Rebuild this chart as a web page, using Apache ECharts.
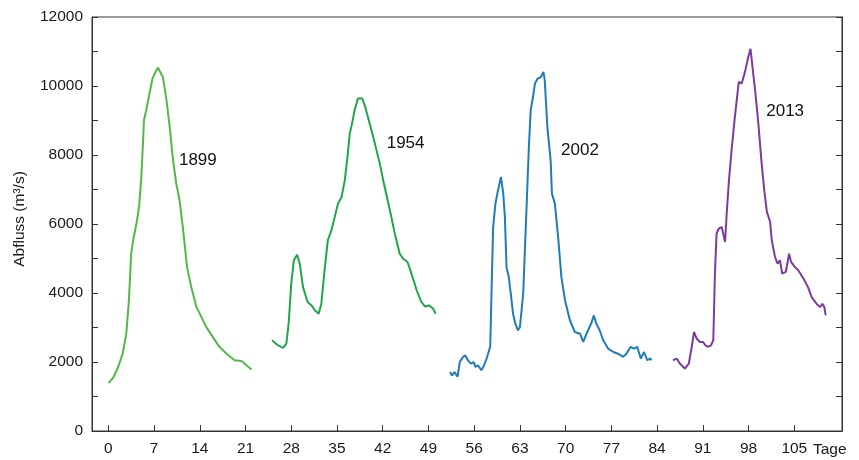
<!DOCTYPE html>
<html>
<head>
<meta charset="utf-8">
<script src="https://cdn.jsdelivr.net/npm/echarts@6/dist/echarts.min.js"></script>
<style>html,body{margin:0;padding:0;background:#fff}#c{width:859px;height:460px}</style>
</head>
<body>
<div id="c"></div>
<script>
// ---- data (days, discharge m³/s) ----
var days1899 = [0.05,0.8,1.5,2.2,2.75,3.15,3.5,3.8,4.3,4.7,5.05,5.3,5.45,5.8,6.3,6.75,7.1,7.6,8.35,8.9,9.4,9.9,10.4,10.9,11.4,12.05,12.7,13.5,14.25,15,16,17,18.1,19.3,20.4,21.9];
var flow1899 = [1390,1565,1855,2245,2820,3790,5140,5530,6010,6490,7360,8330,9010,9300,9780,10210,10360,10530,10260,9590,8810,7850,7170,6690,5910,4750,4170,3590,3300,3010,2720,2440,2240,2050,2030,1780];

var days1954 = [25.05,26.0,26.75,27.25,27.6,28.0,28.4,28.9,29.3,29.8,30.5,31.1,31.6,32.2,32.6,33.1,33.6,34.15,34.65,35.15,35.7,36.2,36.6,36.95,37.3,37.7,38.2,38.85,39.25,40.0,40.8,41.55,42.3,43.1,43.85,44.6,45.1,45.8,46.4,47.2,47.9,48.45,49.05,49.35,49.7,50.1];
var flow1954 = [2630,2480,2410,2530,3110,4270,4950,5110,4850,4170,3740,3640,3500,3400,3690,4660,5530,5820,6200,6590,6780,7270,7940,8620,8910,9300,9640,9640,9440,8910,8330,7750,7070,6400,5720,5140,5000,4900,4560,4080,3740,3610,3640,3690,3550,3400];

var days2002 = [52.3,52.6,53.0,53.45,53.8,54.3,54.65,55.05,55.5,55.9,56.2,56.6,57.1,57.5,57.9,58.2,58.45,58.65,58.9,59.25,59.65,60.1,60.45,60.7,60.95,61.3,61.6,61.95,62.3,62.7,63.0,63.5,64.0,64.35,64.65,65.0,65.3,65.7,66.2,66.6,66.8,67.2,67.7,67.9,68.35,68.85,69.35,69.9,70.65,71.4,72.2,72.7,73.2,74.0,74.3,74.7,75.2,75.75,76.5,77.3,78.0,78.8,79.3,79.95,80.45,80.95,81.5,82.0,82.5,82.9,83.15];
var flow2002 = [1710,1610,1710,1570,2000,2150,2190,2050,1950,2000,1860,1900,1760,1900,2100,2050,2440,3980,5910,6590,6980,7360,6880,6200,4750,4460,3980,3400,3110,2920,3010,3980,6400,8140,9300,9680,10070,10210,10260,10410,10170,8810,7850,6880,6590,5620,4460,3790,3210,2870,2820,2580,2820,3160,3350,3110,2920,2630,2390,2290,2240,2150,2240,2440,2390,2440,2100,2290,2050,2100,2050];

var days2013 = [86.45,87.0,87.5,88.25,88.85,89.3,89.65,90.05,90.55,91.05,91.4,91.8,92.25,92.6,92.85,93.1,93.45,93.9,94.1,94.4,94.65,95.0,95.4,95.9,96.3,96.5,96.95,97.45,97.95,98.3,98.6,99.0,99.5,100.0,100.4,100.8,101.3,101.55,102.05,102.45,102.8,103.15,103.7,104.2,104.5,105.1,105.6,106.4,107.1,107.65,108.4,108.95,109.3,109.6,109.8];
var flow2013 = [2050,2100,1950,1810,1950,2440,2870,2680,2580,2580,2480,2440,2480,2630,4560,5720,5870,5910,5960,5480,6300,7270,8140,9100,9780,10120,10070,10410,10840,11080,10550,9880,8910,7750,6980,6350,6060,5530,5040,4850,4950,4560,4610,5140,4900,4750,4660,4420,4170,3880,3690,3590,3690,3590,3350];

var years = ['1899','1954','2002','2013'];
var labelDay = [13.7, 45.5, 72.2, 103.6];
var labelFlow = [7850, 8340, 8140, 9270];
var xMin = -2.5, xMax = 112.3, xStep = 7, xLastTick = 105;
var yMin = 0, yMax = 12000, yStep = 1000;

var colors = ['#52b848','#1fa64b','#1f7db6','#7d3c9c'];

function zip(a,b){ return a.map(function(v,i){ return [v,b[i]]; }); }
var allDays = [days1899, days1954, days2002, days2013];
var allFlow = [flow1899, flow1954, flow2002, flow2013];

// layout: a second (invisible) grid with the same scale, starting at day 0, carries the day ticks
var W = 859, gL = 92, gR = 17, gT = 17, gB = 29;
var pxPerDay = (W - gL - gR) / (xMax - xMin);
var tickAxisMax = xLastTick + 3;
var tickGridLeft = gL + (0 - xMin) * pxPerDay;
var tickGridRight = gR + (xMax - tickAxisMax) * pxPerDay;

var series = years.map(function(y,i){
  return {
    name: y, type: 'line', data: zip(allDays[i], allFlow[i]),
    xAxisIndex: 0, yAxisIndex: 0,
    showSymbol: false, symbol: 'none', smooth: false,
    lineStyle: {color: colors[i], width: 2}, itemStyle:{color: colors[i]},
    z: 3
  };
});
series.push({
  type: 'scatter', symbolSize: 0, silent: true, z: 4, xAxisIndex: 0, yAxisIndex: 0,
  itemStyle: {opacity: 1, color: '#000'},
  data: years.map(function(y,i){ return {name: y, value: [labelDay[i], labelFlow[i]]}; }),
  label: {show: true, position: 'inside', formatter: function(p){ return p.name; },
          color: '#111', opacity: 1, fontSize: 17, fontFamily: 'Liberation Sans, Arial, sans-serif'}
});

var axisCol = '#333';
var font = 'Liberation Sans, Arial, sans-serif';
var chart = echarts.init(document.getElementById('c'), null, {renderer: 'canvas'});
chart.setOption({
  animation: false,
  backgroundColor: '#fff',
  grid: [
    {left: gL, right: gR, top: gT, bottom: gB, show: true, borderColor: axisCol, borderWidth: 1, containLabel: false, outerBoundsMode: 'none'},
    {left: tickGridLeft, right: tickGridRight, top: gT, bottom: gB, show: false, containLabel: false, outerBoundsMode: 'none'}
  ],
  xAxis: [{
    gridIndex: 0, type: 'value', min: xMin, max: xMax,
    axisLine: {show: true, onZero: false, lineStyle: {color: axisCol, width: 1}},
    axisTick: {show: false}, axisLabel: {show: false}, splitLine: {show: false},
    name: 'Tage', nameLocation: 'end', nameGap: -29,
    nameTextStyle: {color: '#1a1a1a', fontSize: 15.5, fontFamily: font, verticalAlign: 'top', align: 'left', padding: [11,0,0,0]}
  },{
    gridIndex: 1, type: 'value', min: 0, max: tickAxisMax, interval: xStep,
    axisLine: {show: false, onZero: false},
    axisTick: {show: true, inside: true, length: 6, lineStyle: {color: axisCol, width: 1}},
    axisLabel: {show: true, showMaxLabel: false, margin: 10, color: '#1a1a1a', fontSize: 15.5, fontFamily: font,
                formatter: function(v){ return (v % xStep === 0 && v <= xLastTick) ? String(v) : ''; }},
    splitLine: {show: false}
  }],
  yAxis: [{
    gridIndex: 0, type: 'value', min: yMin, max: yMax, interval: yStep,
    axisLine: {show: true, onZero: false, lineStyle: {color: axisCol, width: 1}},
    axisTick: {show: true, inside: true, length: 6, lineStyle: {color: axisCol}},
    axisLabel: {margin: 9, color: '#1a1a1a', fontSize: 15.5, fontFamily: font,
                formatter: function(v){ return v % 2000 === 0 ? String(v) : ''; }},
    splitLine: {show: false},
    name: 'Abfluss (m³/s)', nameLocation: 'middle', nameGap: 64,
    nameTextStyle: {color: '#1a1a1a', fontSize: 15.5, fontFamily: font, padding: [0,0,0,10]}
  },{
    gridIndex: 0, type: 'value', position: 'right', min: yMin, max: yMax, interval: yStep,
    axisLine: {show: true, onZero: false, lineStyle: {color: axisCol, width: 1}},
    axisTick: {show: true, inside: true, length: 6, lineStyle: {color: axisCol}},
    axisLabel: {show: false}, splitLine: {show: false}
  },{
    gridIndex: 1, type: 'value', min: yMin, max: yMax, show: false
  }],
  series: series
});
</script>
</body>
</html>
